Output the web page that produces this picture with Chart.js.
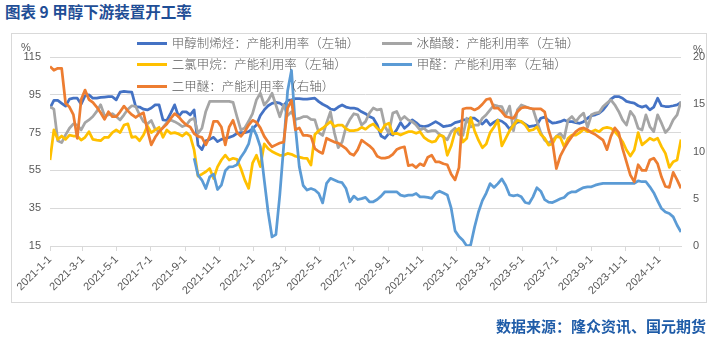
<!DOCTYPE html>
<html><head><meta charset="utf-8">
<script src="https://cdn.jsdelivr.net/npm/chart.js@4.4.1/dist/chart.umd.min.js"></script>
<style>
html,body{margin:0;padding:0;background:#fff;}
#wrap{position:relative;width:726px;height:356px;overflow:hidden;font-family:"Noto Sans CJK SC","Noto Sans",sans-serif;}
#title{position:absolute;left:5px;top:2px;font-size:15.5px;font-weight:bold;color:#1f4e96;white-space:nowrap;line-height:18px;}
#box{position:absolute;left:11px;top:33px;width:696px;height:270px;border:1px solid #d9d9d9;box-sizing:border-box;}
#cv{position:absolute;left:0;top:0;}
#footer{position:absolute;right:20px;top:317px;font-size:15px;font-weight:bold;color:#1f5ca8;white-space:nowrap;line-height:18px;}
.sw{position:absolute;width:30px;height:3px;}
.lt{position:absolute;font-size:12.5px;line-height:16px;color:#595959;white-space:nowrap;font-weight:300;}
.unit{position:absolute;font-family:"Liberation Sans",sans-serif;font-size:11px;color:#595959;line-height:12px;}
</style></head>
<body>
<div id="wrap">
  <div id="title">图表 9 甲醇下游装置开工率</div>
  <div id="box"></div>
  <canvas id="cv" width="726" height="356"></canvas>
  <div class="unit" style="left:21px;top:41px;">%</div>
  <div class="unit" style="left:693px;top:43px;">%</div>
  <div id="legend"></div>
  <div id="footer">数据来源：隆众资讯、国元期货</div>
</div>
<script>
// ---- data (weekly, starting 2021-01-01) ----
const startDate = '2021-01-01';
const tickLabels = ['2021-1-1','2021-3-1','2021-5-1','2021-7-1','2021-9-1','2021-11-1','2022-1-1','2022-3-1','2022-5-1','2022-7-1','2022-9-1','2022-11-1','2023-1-1','2023-3-1','2023-5-1','2023-7-1','2023-9-1','2023-11-1','2024-1-1'];
const leftTicks = [15,35,55,75,95,115];
const rightTicks = [0,5,10,15,20];

const mto = [88,92,92,90.5,89,92.7,93.2,93.2,90,94.5,
95,93.2,93.2,93.6,93.8,94,94,92.3,96.4,96.8,
96.6,96.4,88.8,88.5,87.4,87,88,89.7,89.7,81.7,
81.4,85.3,89.7,83.5,86,86,84.4,87,68.4,66,
70.7,71.4,72.5,70.2,71.4,72,72.5,73.2,74.6,75,
75,75.5,77,79,84,87,89.2,90.5,91,90.6,
89.2,92,92.3,93,93,92.7,92.7,93,93.2,91.4,
90,89,87.5,87,88.5,89.6,88.5,88,88,87.4,
86,85,83.5,82.6,79,73.2,72,74.6,73.7,76.4,
80.3,77.3,79,81.7,80.3,78.5,78.2,78.5,79.6,80.8,
79.6,78.2,78.5,79,80.3,80.8,81.7,81.7,82.6,82.6,
81,79.5,81.7,79,80.5,81.7,81,79.5,76.8,79,
80.5,80.8,79.5,78.2,78.5,79,82.6,83.2,81.4,80,
80.3,80.8,81.7,80.8,80.8,80.3,79.9,80.8,82.6,83.9,
84.4,85.3,87,89.7,92.7,94.1,94.1,93.2,91.5,91,
90.6,89.2,88.5,89.2,87,88.5,93.2,89.2,88.8,88.8,
89.2,89.7,91];

const acetic = [88.8,87.4,70.7,69.7,73.8,77.3,79.6,79,76.4,80.3,
81.7,83.5,86.2,89.7,83.9,84.4,85,83.5,81.7,84.4,
87.4,89.2,88.8,84.4,80.8,79.6,81.4,76.8,75.5,77.8,
80.3,81.7,80.8,79.6,78.2,79,81.7,82.6,74.6,77.3,
86.2,91.5,91.5,91.5,91.5,91.5,91.5,91,83.5,76.4,
77.5,81,85,92.3,95.8,89.6,92,95.8,89.6,83.4,
89.6,84,86,82,82.5,83.4,83.4,82,81.7,75,
73.5,80,86,75,67,70,78,82,85,84.4,
79,80.8,85.3,88,87,87.4,78.2,74.6,85.3,86.2,
81.7,83.5,81.7,80.8,79,76.4,77.3,75.5,76,76,
74,72.7,71.2,75.5,77.3,74,73.5,82.6,78,79,
79,82.6,84.5,87,89.6,89,88.8,84,89,76,
87,89.6,88.8,88,87.5,81,75,71,69.5,71,
73,74.6,72,81.7,83.5,80.8,83.5,85.3,77.8,84.4,
85.3,85.7,88.8,90.6,92.3,89.7,86.2,81.7,79,86.2,
83.5,77.3,76.4,84.4,78.2,75.5,84.4,80,75,77.3,
81.7,84.4,91.5];

const dcm = [60.5,76.4,71.4,73.2,71.4,73.7,73.2,73.2,71,72.5,
75.5,71.4,71,70.7,72.5,72.5,75,76.4,75,79,
79.6,72.5,72.9,70.7,73.7,78.5,75,76.4,77.8,72.5,
76.4,74.6,75,74.3,73.2,75,73.2,65.8,52,53,
54.3,56,50.7,56.9,60.5,63.1,60.5,61.4,60.8,56,
50,45.5,58.8,63,57,69,66.5,65,64,63,
63,64,63.5,62.5,62,61.5,61.4,57.8,74,76,
77.3,79,80.8,78.2,79,79,77,76,76,76.4,
77.8,76.8,78.5,79.6,77.3,75.5,79,80,74.3,74.6,
73.7,74.6,75.5,75.5,74.6,75.5,72.5,71,70,70.5,
73.7,73,63,68,75.5,77.3,70,72,83,76,
71,67,69,75,78,81.5,68,72,76,79,
81.5,80.8,79,76,76.5,78,74,72,68.4,69,
73,72.5,67.5,72,73.7,73.7,75,76.8,75.5,75.5,
76.4,75.5,77.3,77.8,77.3,75.5,73.2,70.2,65.8,62.6,
65.8,75,68.5,70.2,72,71,72,67.6,64,56.6,
59.6,60.5,71.4];

const formaldehyde = [null,null,null,null,null,null,null,null,null,null,
null,null,null,null,null,null,null,null,null,null,
null,null,null,null,null,null,null,null,null,null,
null,null,null,null,null,null,null,61.4,52.5,49.9,
45.4,51.6,53,44.9,47.2,54.8,56.9,57,58,62,
65,69,78,73.7,67.5,50,33,19.8,21,42,
68,97,108,78,57,47,44.6,45.4,44.6,42.8,
37.8,48.1,50.8,49.9,49,48.5,45.4,38.4,41.4,39.6,
40.1,40.7,38.4,38.4,39.6,41.4,43.7,43.7,43.7,43.7,
41.9,41.4,41.9,41.9,42.8,41,41,40.7,40.2,43,
44,43,42,35,23,20,18,15,15.5,25,
33,39,43,48,46,48,50.5,47,42,41.5,
42,41,38,37.5,41,45.8,44,39.5,38.2,38,
39,40,40.7,42.8,43.7,43.7,44.9,45.9,46.3,46.3,
47.2,47.7,48.1,48.1,48.1,48.1,48.1,48.1,48.1,48.1,
48.1,49.5,49,49,46.3,43.2,38.9,34.8,33,32.2,
30.4,26,22.4];

const dme = [19,18.6,18.8,18.8,15.1,14.7,13.9,11.4,15.5,16.5,
15.5,15.2,14.7,14.1,13.4,14.2,13.7,13.7,14.2,14.8,
14.3,13.9,13.6,13.9,14.1,12.3,10.7,11.5,12.1,12.5,
12.9,13.5,14,13.7,13.2,12.8,12.6,11.9,11.6,11.5,
10.7,11.6,13.2,13.2,12.6,10.7,12.6,13.3,12,11.6,
12.1,12.8,13.3,13.1,12.5,11.6,11,10.5,10.7,10.9,
11,14.6,15.4,12.3,12.5,11.7,11.7,11.6,10.3,10,
9.8,11.4,11.2,11,10.9,10.6,10.3,9.8,9.6,10.2,
11.2,10.9,10.6,10.2,9.5,9.3,9.3,9.4,9.7,10.2,
10.4,10.5,8.5,8.6,8.3,8.7,8.5,9.4,9.6,8.9,
8.9,8.7,8.6,7.6,7,8.3,14.5,14.6,14.6,14.4,
14.6,15,15.5,15.6,14.6,14.6,14.2,13.7,13.6,13.5,
14.2,14.6,14.7,14.6,14.5,14.5,14.5,14.2,12.3,11,
8.2,9.5,10.3,11,11.6,12.1,12.4,12.5,12.3,12,
11.8,11.5,11.2,10.2,11.6,12.5,12,10.3,8.9,7.5,
6.8,8.6,8,8,9.1,9.3,8.7,7.3,6.3,6.2,
7.8,7.0,6.1];

const seriesNames = ['甲醇制烯烃：产能利用率（左轴）','冰醋酸：产能利用率（左轴）','二氯甲烷：产能利用率（左轴）','甲醛：产能利用率（左轴）','二甲醚：产能利用率（右轴）'];
const seriesColors = ['#4472C4','#A5A5A5','#FFC000','#5B9BD5','#ED7D31'];

// ---- helpers ----
const DAY = 86400000;
function dayOf(s){const p=s.split('-').map(Number);return Date.UTC(p[0],p[1]-1,p[2]);}
const t0 = dayOf(startDate);
const weekDates = mto.map((_, i) => new Date(t0 + i*7*DAY).toISOString().slice(0,10));
const xDays = weekDates.map(d => Math.round((dayOf(d)-t0)/DAY));
const tickDays = tickLabels.map(s => Math.round((dayOf(s)-t0)/DAY));
function pts(arr){return arr.map((v,i)=>({x:xDays[i], y:v}));}

const allSeries = [mto, acetic, dcm, formaldehyde, dme];
const axisOf = ['yL','yL','yL','yL','yR'];
const drawOrder = [5,4,3,2,1];

const datasets = allSeries.map((arr,k)=>({
  label: seriesNames[k], data: pts(arr), yAxisID: axisOf[k],
  borderColor: seriesColors[k], backgroundColor: seriesColors[k],
  borderWidth: 2.75, pointRadius: 0, tension: 0, fill: false, order: drawOrder[k],
  borderJoinStyle: 'round'
}));

// ---- legend (HTML) ----
const legPos = [[136.7,43.3],[381.7,43.3],[136.7,64.3],[381.7,64.3],[136.7,86]];
const leg = document.getElementById('legend');
seriesNames.forEach((n,k)=>{
  const [x,y] = legPos[k];
  const sw = document.createElement('div'); sw.className='sw';
  sw.style.left = x+'px'; sw.style.top = (y-1.5)+'px'; sw.style.background = seriesColors[k];
  const t = document.createElement('div'); t.className='lt';
  t.style.left = (x+35)+'px'; t.style.top = (y-8)+'px'; t.textContent = n;
  leg.appendChild(sw); leg.appendChild(t);
});

const tickFont = {family:'"Liberation Sans", Arial, sans-serif', size:11};
new Chart(document.getElementById('cv'), {
  type: 'line',
  data: { datasets },
  options: {
    responsive: false, animation: false, devicePixelRatio: 1,
    layout: { padding: { top: 57, left: 0, right: 0, bottom: 0 } },
    plugins: { legend: { display: false }, tooltip: { enabled: false } },
    scales: {
      x: {
        type: 'linear', min: 0, max: xDays[xDays.length-1],
        afterBuildTicks: s => { s.ticks = tickDays.map(v => ({value: v})); },
        afterFit: s => { s.height = 110; },
        ticks: { autoSkip: false, minRotation: 45, maxRotation: 45, font: tickFont, color: '#595959', padding: 2,
                 callback: (v, i) => tickLabels[i] },
        grid: { drawOnChartArea: false, drawTicks: true, tickLength: 5, color: '#d9d9d9' },
        border: { color: '#d9d9d9' }
      },
      yL: {
        type: 'linear', position: 'left', min: 15, max: 115,
        afterBuildTicks: s => { s.ticks = leftTicks.map(v => ({value: v})); },
        afterFit: s => { s.width = 50; },
        ticks: { font: tickFont, color: '#595959', padding: 9 },
        grid: { color: '#d9d9d9', drawTicks: false },
        border: { display: false }
      },
      yR: {
        type: 'linear', position: 'right', min: 0, max: 20,
        afterBuildTicks: s => { s.ticks = rightTicks.map(v => ({value: v})); },
        afterFit: s => { s.width = 45; },
        ticks: { font: tickFont, color: '#595959', padding: 12 },
        grid: { drawOnChartArea: false, drawTicks: false },
        border: { display: false }
      }
    }
  }
});
</script>
</body></html>
